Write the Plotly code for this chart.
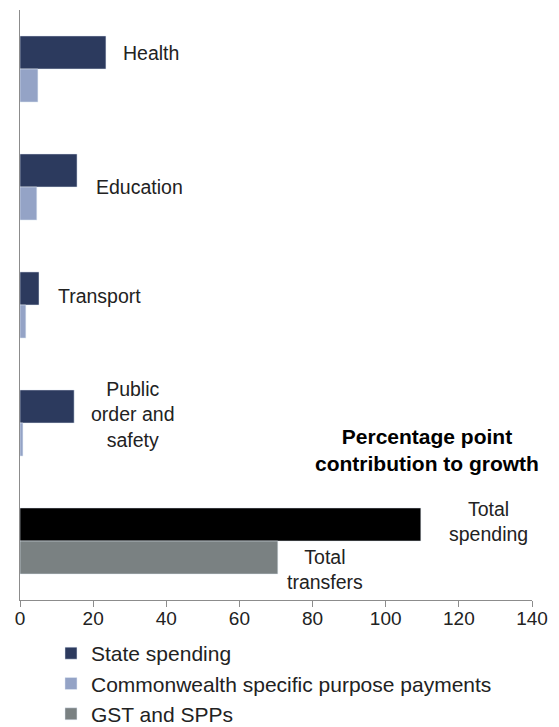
import plotly.graph_objects as go

categories = ["Health", "Education", "Transport", "Public order and safety"]
state_spending = [23.5, 15.6, 5.2, 14.8]
cwlth_spp = [4.9, 4.6, 1.6, 0.8]
total_label = "Total"
total_spending = [109.6]
gst_spps = [70.5]
x_ticks = [0, 20, 40, 60, 80, 100, 120, 140]

NAVY = "#2c3a5e"
LIGHT = "#94a3c6"
GREY = "#7a8182"
FONT = "Liberation Sans, Arial, sans-serif"
TXT = "#222222"

fig = go.Figure()
fig.add_trace(go.Bar(y=categories, x=state_spending, orientation="h", name="State spending",
                     marker_color=NAVY, offsetgroup="a", legendgroup="g1"))
fig.add_trace(go.Bar(y=categories, x=cwlth_spp, orientation="h",
                     name="Commonwealth specific purpose payments",
                     marker_color=LIGHT, offsetgroup="b", legendgroup="g2"))
fig.add_trace(go.Bar(y=[total_label], x=total_spending, orientation="h", name="Total spending",
                     marker_color="#000000", offsetgroup="a", showlegend=False))
fig.add_trace(go.Bar(y=[total_label], x=gst_spps, orientation="h", name="GST and SPPs",
                     marker_color=GREY, offsetgroup="b", legendgroup="g3"))

ann_font = dict(family=FONT, size=19.5, color=TXT)
annots = [
    dict(x=35.7, y="Health", text="Health", yshift=16),
    dict(x=32.7, y="Education", text="Education", yshift=0),
    dict(x=21.7, y="Transport", text="Transport", yshift=9),
    dict(x=30.8, y="Public order and safety", text="Public<br>order and<br>safety", yshift=9),
    dict(x=128.1, y=total_label, text="Total<br>spending", yshift=20),
    dict(x=83.4, y=total_label, text="Total<br>transfers", yshift=-28),
]
for a in annots:
    fig.add_annotation(x=a["x"], y=a["y"], text=a["text"], yshift=a["yshift"],
                       showarrow=False, font=ann_font, align="center",
                       xanchor="center", yanchor="middle")

fig.add_annotation(x=111.3, y="Public order and safety",
                   text="<b>Percentage point<br>contribution to growth</b>",
                   yshift=-27, showarrow=False, font=dict(family=FONT, size=21, color="#000000"),
                   align="center", xanchor="center", yanchor="middle")

fig.update_layout(
    width=551, height=719,
    margin=dict(l=12, r=27, t=2, b=127, autoexpand=False),
    barmode="group", bargap=0.44, bargroupgap=0,
    plot_bgcolor="white", paper_bgcolor="white",
    font=dict(family=FONT, size=19, color=TXT),
    showlegend=True,
    legend=dict(orientation="v", x=0.0605, xanchor="left", y=-0.056, yanchor="top",
                font=dict(family=FONT, size=21, color=TXT),
                tracegroupgap=0, bgcolor="rgba(0,0,0,0)"),
    xaxis=dict(range=[0, 140], tickvals=x_ticks, showgrid=False, zeroline=False,
               showline=True, linecolor="#8c8c8c", linewidth=1,
               ticks="outside", ticklen=6, tickcolor="#8c8c8c", ticklabelstandoff=-5,
               tickfont=dict(family=FONT, size=19, color=TXT)),
    yaxis=dict(categoryorder="array", categoryarray=categories + [total_label],
               autorange="reversed", showticklabels=False, showgrid=False,
               showline=True, linecolor="#8c8c8c", linewidth=1, ticks=""),
)

fig.write_html("out.html")
